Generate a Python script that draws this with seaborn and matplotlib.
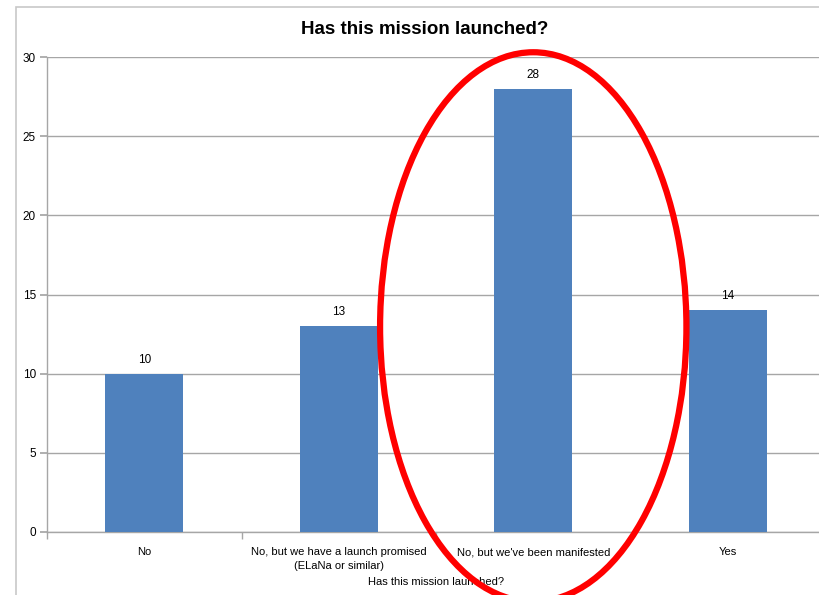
import matplotlib
matplotlib.use("Agg")
import matplotlib.pyplot as plt
import seaborn as sns
import pandas as pd
from matplotlib.patches import Ellipse, Rectangle

categories = ["No", "No, but we have a launch promised\n(ELaNa or similar)",
              "No, but we've been manifested", "Yes"]
counts = [10, 13, 28, 14]
yticks = [0, 5, 10, 15, 20, 25, 30]
title = "Has this mission launched?"
xlabel = "Has this mission launched?"

sns.set_theme(style="white")
plt.rcParams['font.family'] = ['Liberation Sans', 'DejaVu Sans']
plt.rcParams['text.color'] = 'black'
plt.rcParams['xtick.color'] = 'black'
plt.rcParams['ytick.color'] = 'black'
plt.rcParams['axes.labelcolor'] = 'black'

W, H = 819, 595
fig = plt.figure(figsize=(W / 100, H / 100), dpi=100)
fig.patch.set_facecolor("white")

# chart border
fig.patches.append(Rectangle((16 / W, -0.1), 1.2, 1 - 7 / H + 0.1, transform=fig.transFigure,
                             fill=False, edgecolor="#c8c8c8", linewidth=1.2, zorder=0))

ax = fig.add_axes([47 / W, 1 - 532 / H, 778 / W, 475 / H])
df = pd.DataFrame({"cat": categories, "count": counts})
sns.barplot(data=df, x="cat", y="count", color="#4F81BD", saturation=1, width=0.4, ax=ax,
            zorder=3, linewidth=0)

ax.set_ylim(0, 30)
ax.set_xlim(-0.5, len(categories) - 0.5)
ax.set_yticks(yticks)
ax.set_yticklabels([str(t) for t in yticks], fontsize=8.5)
ax.yaxis.grid(True, color="#a6a6a6", linewidth=1)
ax.set_axisbelow(True)
for s in ["top", "right"]:
    ax.spines[s].set_visible(False)
for s in ["left", "bottom"]:
    ax.spines[s].set_color("#a6a6a6")
    ax.spines[s].set_linewidth(1)
ax.tick_params(axis="y", left=True, length=5, color="#a6a6a6", pad=3, labelcolor="black")
ax.set_xticks(range(len(categories)))
ax.set_xticklabels(categories, fontsize=8, linespacing=1.5)
ax.tick_params(axis="x", bottom=False, pad=5, labelcolor="black")
# category boundary ticks
ax.set_xticks([i + 0.5 for i in range(len(categories) - 1)] + [-0.5], minor=True)
ax.tick_params(axis="x", which="minor", bottom=True, length=5, color="#a6a6a6")
ax.set_xlabel(xlabel, fontsize=8, labelpad=4, color="black")
ax.set_ylabel("")

for i, v in enumerate(counts):
    ax.text(i, v + 0.5, str(v), ha="center", va="bottom", fontsize=8.5, color="black")

fig.text(425 / W, 1 - 30 / H, title, ha="center", va="center", fontsize=13.5,
         fontweight="bold", color="black")

# red highlight ellipse around third category
ell = Ellipse((2, 12.95), width=1.575, height=34.7, fill=False, edgecolor="#ff0000",
              linewidth=4.5, zorder=5, clip_on=False)
ax.add_patch(ell)

fig.savefig("out.png", dpi=100)
